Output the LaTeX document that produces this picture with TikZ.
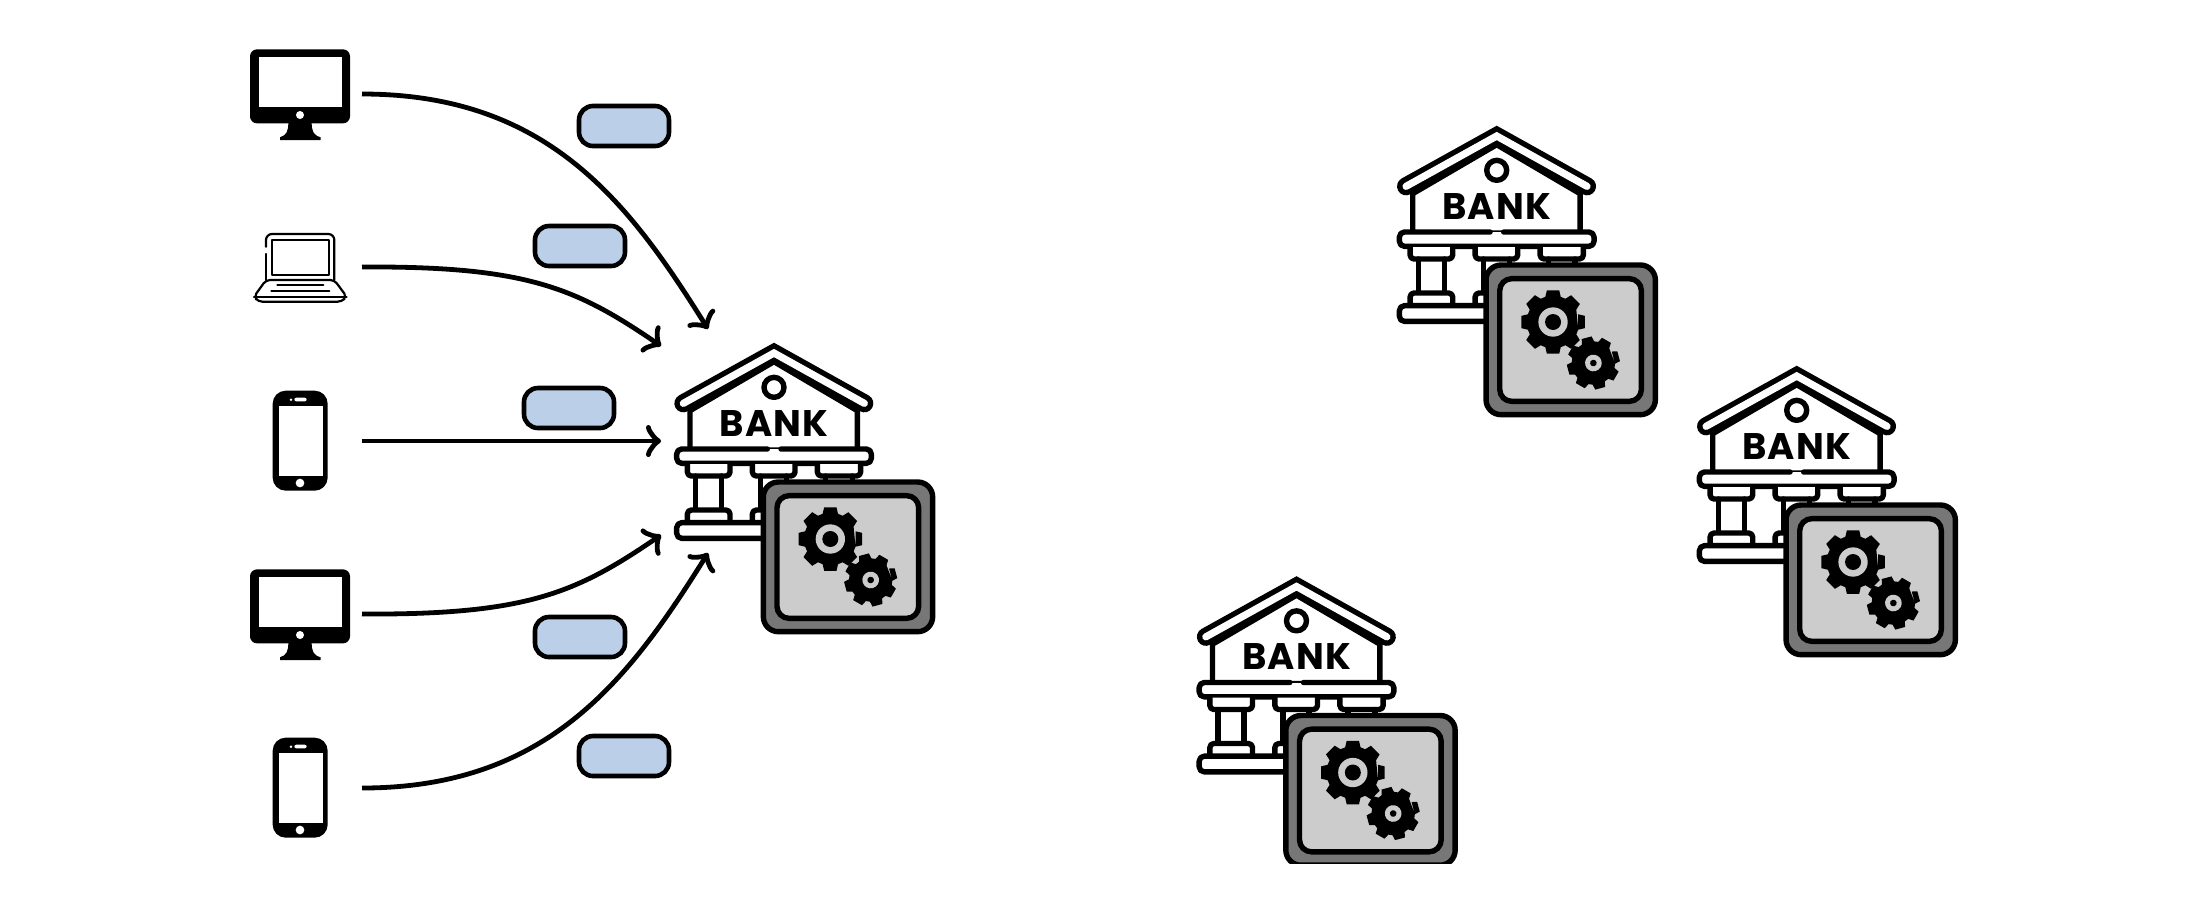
\documentclass[tikz,border=0pt]{standalone}
\usepackage{fontspec}
\setmainfont{Poppins}
\usetikzlibrary{arrows.meta}
\definecolor{pillblue}{HTML}{BBD0E8}
\definecolor{safeouter}{HTML}{777777}
\definecolor{safeinner}{HTML}{CCCCCC}
\tikzset{
  link/.style={line width=2.4pt,line cap=butt,-{Classical TikZ Rightarrow[length=7.5pt,width=16pt,line width=2.4pt,line cap=round]}},
  pill/.style={draw=black,line width=2.3pt,fill=pillblue,rounded corners=7pt,minimum width=45pt,minimum height=20pt,inner sep=0pt,outer sep=0pt},
  iconline/.style={draw=black,line width=2.7pt,line join=round,line cap=round},
  bankpart/.style={iconline,fill=white},
  thinline/.style={draw=black,line width=1.1pt,line join=round,line cap=round}
}
\newcommand{\gearicon}[6]{% cx cy outer root rot
  \begin{scope}[shift={(#1,#2)},rotate=#5]
    \fill[black] (17:#4) \foreach \ga in {0,45,...,315} { -- (\ga-17:#4) -- (\ga-11:#3) -- (\ga+11:#3) -- (\ga+17:#4)} -- cycle;
    #6
  \end{scope}}
\newcommand{\bankicon}[2]{%
  \begin{scope}[shift={(#1,#2)},scale=1/3]
    % walls
    \draw[bankpart] (120,272) -- (372,125) -- (622,272) -- (622,390) -- (120,390) -- cycle;
    % roof
    \draw[black,line width=9pt,line cap=round,line join=miter] (100,250) -- (372,99) -- (643,250);
    \draw[white,line width=3.6pt,line cap=round,line join=miter] (100,250) -- (372,99) -- (643,250);
    \draw[iconline] (372,202) circle[radius=30];
    \node[font=\fontsize{18.5}{20}\bfseries\addfontfeature{LetterSpace=3},text=black,inner sep=0pt] at (372,310) {BANK};
    % plinth
    \fill[white] (80,387) rectangle (664,430);
    \draw[iconline,rounded corners=2.5pt] (352,387) -- (80,387) -- (80,430) -- (664,430) -- (664,387) -- (393,387);
    % upper caps
    \draw[bankpart,rounded corners=2pt] (112,432) -- (112,468) -- (240,468) -- (240,432);
    \draw[bankpart,rounded corners=2pt] (307,432) -- (307,468) -- (435,468) -- (435,432);
    \draw[bankpart,rounded corners=2pt] (502,432) -- (502,468) -- (632,468) -- (632,432);
    % columns
    \draw[iconline] (137,468) -- (137,570) (215,468) -- (215,570) (332,468) -- (332,570) (410,468) -- (410,570) (527,468) -- (527,500) (607,468) -- (607,500);
    % base
    \draw[bankpart,rounded corners=2pt] (112,606) -- (112,570) -- (240,570) -- (240,606);
    \draw[bankpart,rounded corners=2pt] (307,606) -- (307,570) -- (435,570) -- (435,606);
    \draw[bankpart,rounded corners=2.5pt] (80,608) rectangle (500,655);
    % safe
    \draw[iconline,fill=safeouter,rounded corners=7.5pt] (340,486) rectangle (848,935);
    \draw[iconline,fill=safeinner,rounded corners=6pt] (381,527) rectangle (806,895);
    \gearicon{541}{657}{97}{79}{0}{\fill[safeinner] (0,0) circle[radius=44]; \fill[black] (0,0) circle[radius=24];}
    \gearicon{662}{780}{80}{65}{15}{\fill[safeinner] (0,0) circle[radius=25]; \fill[black] (0,0) circle[radius=10];}
  \end{scope}}
\newcommand{\monitoricon}[2]{%
  \begin{scope}[shift={(#1,#2)},scale=1/3]
    \fill[black,rounded corners=3.5pt] (60,58) rectangle (360,280);
    \fill[white] (86,82) rectangle (336,232);
    \fill[white] (210,255) circle[radius=12];
    \fill[black] (175,275) .. controls (175,305) and (170,315) .. (150,322) -- (150,330) -- (272,330) -- (272,322) .. controls (250,315) and (245,305) .. (245,275) -- cycle;
  \end{scope}}
\newcommand{\phoneicon}[2]{%
  \begin{scope}[shift={(#1,#2)},scale=1/3]
    \fill[black,rounded corners=6.5pt] (68,32) rectangle (233,332);
    \fill[white] (86,78) rectangle (218,287);
    \fill[white] (150,309) circle[radius=13];
    \fill[white,rounded corners=1pt] (133,53) rectangle (170,64);
    \fill[white] (123,59) circle[radius=4];
  \end{scope}}
\begin{document}
\begin{tikzpicture}[x=0.5pt,y=-0.5pt]
  \useasboundingbox (0,0) rectangle (2198,896);
  % devices
  \monitoricon{230}{30}
  \monitoricon{230}{550}
  \phoneicon{250}{380}
  \phoneicon{250}{727}
  \begin{scope}[shift={(230,30)},scale=1/3]
    \draw[thinline,rounded corners=3pt] (108,650) -- (108,612) -- (313,612) -- (313,750);
    \draw[thinline] (108,672) -- (108,750);
    \draw[thinline] (126,630) rectangle (298,735);
    \draw[thinline,rounded corners=2pt] (108,750) -- (313,750) -- (350,800) -- (335,815) -- (85,815) -- (72,800) -- cycle;
    \draw[thinline] (72,800) -- (350,800);
    \draw[thinline] (142,765) -- (280,765) (124,782) -- (298,782);
  \end{scope}
  % banks
  \bankicon{650}{320}
  \bankicon{1372.7}{103}
  \bankicon{1672.7}{343}
  \begin{scope}
    \clip (0,0) rectangle (2198,863.5);
    \bankicon{1172.5}{553.5}
  \end{scope}
  % connector ends
  \coordinate (s1) at (362,94);
  \coordinate (s2) at (362,267);
  \coordinate (s3) at (362,441);
  \coordinate (s4) at (362,614);
  \coordinate (s5) at (362,788);
  \coordinate (t1) at (708,329);
  \coordinate (t2) at (661,346);
  \coordinate (t3) at (661,441);
  \coordinate (t4) at (661,535);
  \coordinate (t5) at (708,553);
  \draw[link] (s1) .. controls +(185,0) and +(-80,-128) .. (t1);
  \draw[link] (s2) .. controls +(165,-1) and +(-85,-58) .. (t2);
  \draw[link] (s3) -- (t3);
  \draw[link] (s4) .. controls +(165,1) and +(-85,58) .. (t4);
  \draw[link] (s5) .. controls +(185,0) and +(-80,128) .. (t5);
  % tags
  \node[pill] (p1) at (624,126) {};
  \node[pill] (p2) at (580,246) {};
  \node[pill] (p3) at (569,408) {};
  \node[pill] (p4) at (580,637) {};
  \node[pill] (p5) at (624,756) {};
\end{tikzpicture}
\end{document}
